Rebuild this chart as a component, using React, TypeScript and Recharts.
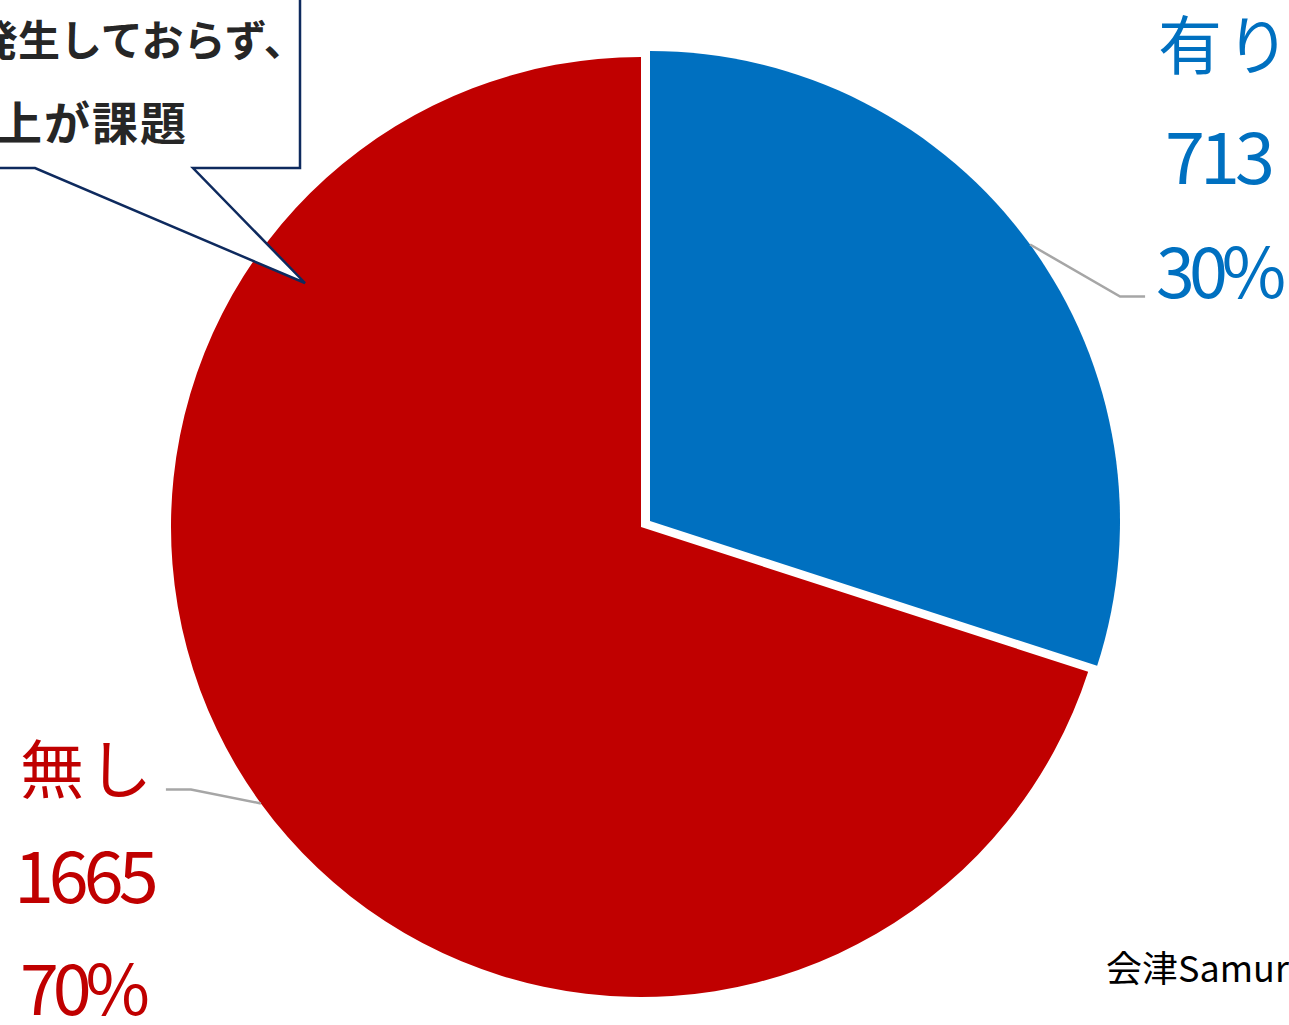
import React from "react";
import { PieChart, Pie, Cell } from "recharts";

const categories = ["有り", "無し"];
const values = [713, 1665];
const percents = ["30%", "70%"];
const colors = ["#0070C0", "#C00000"];
const calloutLines = ["発生しておらず、", "上が課題"];
const sourceText = "会津Samurai";

const data = categories.map((name, i) => ({ name, value: values[i], pct: percents[i] }));

const RAD = Math.PI / 180;
const FONT = "'Noto Sans CJK JP', 'Noto Sans', sans-serif";

function makeLabel(which: number) {
  return (props: any) => {
    const { cx, cy, midAngle, outerRadius, index, payload } = props;
    if (index !== which) return null;
    const x0 = cx + outerRadius * Math.cos(-midAngle * RAD);
    const y0 = cy + outerRadius * Math.sin(-midAngle * RAD);
    const color = colors[index];
    const p = payload && payload.payload ? payload.payload : payload;
    if (index === 0) {
      const ex = x0 + 90, ey = y0 + 52;
      const fx = ex + 25;
      return (
        <g>
          <polyline points={`${x0},${y0} ${ex},${ey} ${fx},${ey}`} fill="none" stroke="#A6A6A6" strokeWidth={2.5} />
          <text x={fx + 13} y={ey - 228} fill={color} fontSize={64} fontFamily={FONT} letterSpacing={4}>{p.name}</text>
          <text x={fx + 20} y={ey - 113} fill={color} fontSize={72} fontFamily={FONT} letterSpacing={-5}>{p.value}</text>
          <text x={fx + 11} y={ey + 1} fill={color} fontSize={70} fontFamily={FONT} letterSpacing={-6}>{p.pct}</text>
        </g>
      );
    }
    const ex = x0 - 70, ey = y0 - 14;
    const fx = ex - 25;
    return (
      <g>
        <polyline points={`${x0},${y0} ${ex},${ey} ${fx},${ey}`} fill="none" stroke="#A6A6A6" strokeWidth={2.5} />
        <text x={fx - 146} y={ey + 4} fill={color} fontSize={64} fontFamily={FONT} letterSpacing={4}>{p.name}</text>
        <text x={fx - 152} y={ey + 114} fill={color} fontSize={72} fontFamily={FONT} letterSpacing={-5}>{p.value}</text>
        <text x={fx - 146} y={ey + 226} fill={color} fontSize={70} fontFamily={FONT} letterSpacing={-6}>{p.pct}</text>
      </g>
    );
  };
}

export default function App() {
  return (
    <div style={{ position: "absolute", left: 0, top: 0, width: 1289, height: 1025, background: "#fff", overflow: "hidden" }}>
      <PieChart width={1289} height={1025} margin={{ top: 0, right: 0, bottom: 0, left: 0 }}>
        <Pie
          data={data}
          dataKey="value"
          nameKey="name"
          cx={641}
          cy={527}
          outerRadius={470}
          startAngle={90}
          endAngle={-270}
          stroke="none"
          isAnimationActive={false}
          labelLine={false}
          label={makeLabel(1)}
        >
          {data.map((d, i) => (
            <Cell key={d.name} fill={i === 1 ? colors[1] : "transparent"} />
          ))}
        </Pie>
        <Pie
          data={data}
          dataKey="value"
          nameKey="name"
          cx={650}
          cy={521}
          outerRadius={470}
          startAngle={90}
          endAngle={-270}
          stroke="none"
          isAnimationActive={false}
          labelLine={false}
          label={makeLabel(0)}
        >
          {data.map((d, i) => (
            <Cell key={d.name} fill={i === 0 ? colors[0] : "transparent"} />
          ))}
        </Pie>
      </PieChart>
      <svg width={1289} height={1025} style={{ position: "absolute", left: 0, top: 0, pointerEvents: "none" }}>
        <path
          d="M -10 -10 L 300 -10 L 300 168 L 193 168 L 305 283 L 35 168 L -10 168"
          fill="#fff"
          stroke="#0E2A5E"
          strokeWidth={2.5}
          strokeLinejoin="miter"
        />
        <text x={-24} y={56} fill="#262626" fontSize={42} fontWeight={700} fontFamily={FONT}>{calloutLines[0]}</text>
        <text x={-4} y={140} fill="#262626" fontSize={46} fontWeight={700} fontFamily={FONT} letterSpacing={2}>{calloutLines[1]}</text>
        <text x={1106} y={982} fill="#000" fontSize={36} fontFamily={FONT}>{sourceText}</text>
      </svg>
    </div>
  );
}
